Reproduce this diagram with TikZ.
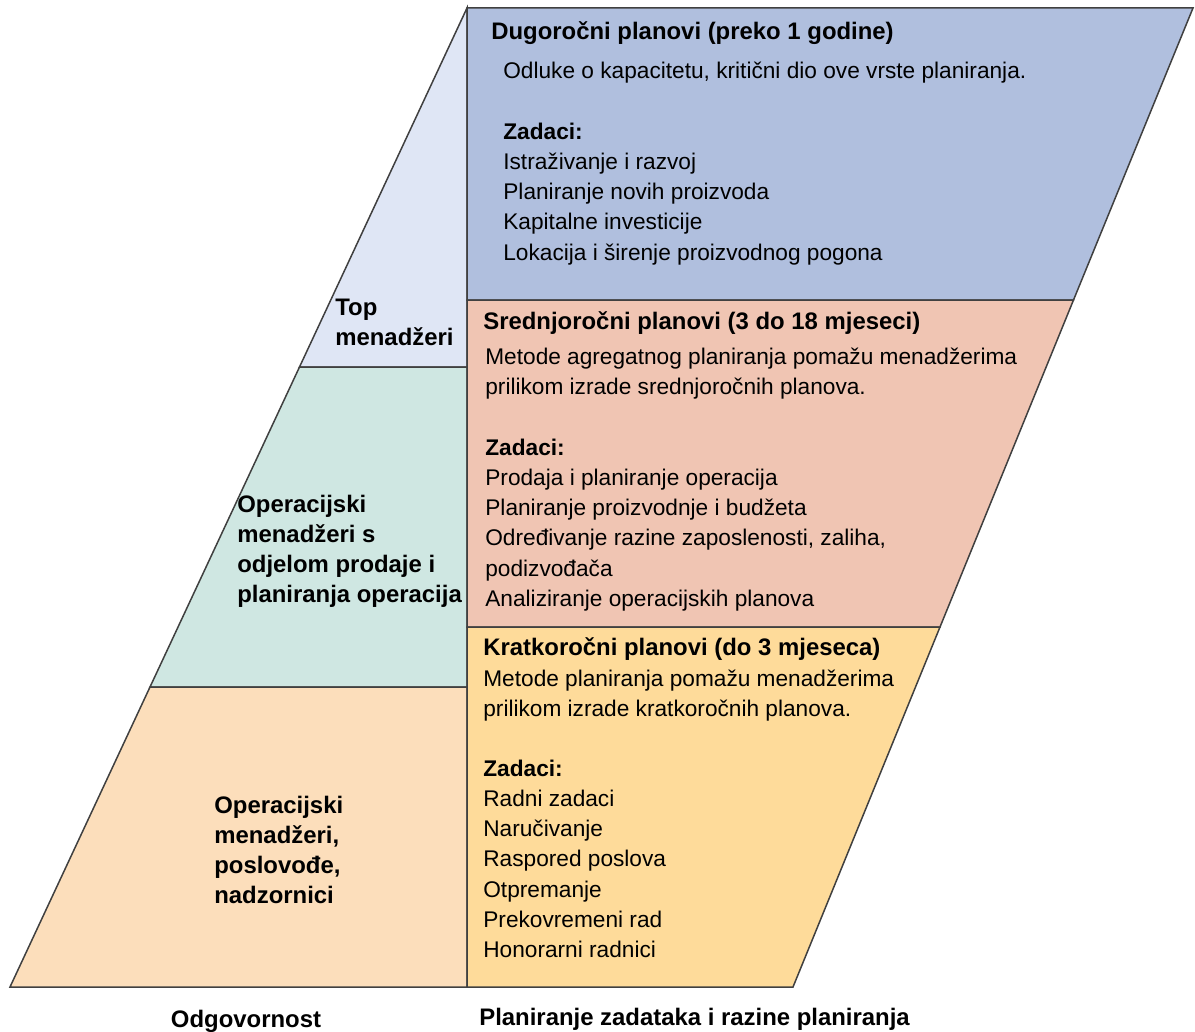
\documentclass[tikz,border=0pt]{standalone}
\usepackage{fontspec}
\setmainfont{Liberation Sans}
\usepackage{xcolor}
\usepackage{tikz}
\usetikzlibrary{shapes,arrows,positioning}

\definecolor{linegray}{RGB}{64,64,64}
\definecolor{topblue}{RGB}{223,230,245}
\definecolor{opteal}{RGB}{207,231,226}
\definecolor{floorpeach}{RGB}{252,222,187}
\definecolor{longblue}{RGB}{176,191,222}
\definecolor{midsalmon}{RGB}{240,197,179}
\definecolor{shortyellow}{RGB}{254,219,154}

\tikzset{
    zone/.style={line width=0.3mm, draw=linegray},
    txt/.style={inner sep=0pt, anchor=base west, align=left,
        font=\fontsize{12.9}{17.24}\selectfont},
    txtbold/.style={txt, font=\fontsize{13.6}{17.24}\selectfont\bfseries}
}

\begin{document}
\begin{tikzpicture}
                \useasboundingbox (0,0) rectangle (23.9,-20.64);

                % odgovornost (lijevo)
                \draw[zone, fill=topblue]
                    (9.34,-0.16) -- (9.34,-7.34) -- (5.99,-7.34) -- cycle;

                \draw[zone, fill=opteal]
                    (5.99,-7.34) -- (9.34,-7.34) -- (9.34,-13.74) -- (3.0,-13.74) -- cycle;

                \draw[zone, fill=floorpeach]
                    (3.0,-13.74) -- (9.34,-13.74) -- (9.34,-19.74) -- (0.2,-19.74) -- cycle;

                % razine planiranja (desno)
                \draw[zone, fill=longblue]
                    (9.34,-0.16) -- (23.86,-0.16) -- (21.47,-6.0) -- (9.34,-6.0) -- cycle;

                \draw[zone, fill=midsalmon]
                    (9.34,-6.0) -- (21.47,-6.0) -- (18.80,-12.54) -- (9.34,-12.54) -- cycle;

                \draw[zone, fill=shortyellow]
                    (9.34,-12.54) -- (18.80,-12.54) -- (15.86,-19.74) -- (9.34,-19.74) -- cycle;

                % tekst lijevo (y = baseline zadnjeg reda)
                \node[txtbold] (topmgr) at (6.70,-6.906) {Top\\menadžeri};
                \node[txtbold] (opmgr) at (4.74,-12.058)
                    {Operacijski\\menadžeri s\\odjelom prodaje i\\planiranja operacija};
                \node[txtbold] (floormgr) at (4.28,-18.078)
                    {Operacijski\\menadžeri,\\poslovođe,\\nadzornici};

                % dugoročni
                \node[txtbold] (longtitle) at (9.82,-0.80) {Dugoročni planovi (preko 1 godine)};
                \node[txt] (longdesc) at (10.06,-1.58)
                    {Odluke o kapacitetu, kritični dio ove vrste planiranja.};
                \node[txt] (longtasks) at (10.06,-5.204)
                    {\textbf{Zadaci:}\\Istraživanje i razvoj\\Planiranje novih proizvoda\\Kapitalne investicije\\Lokacija i širenje proizvodnog pogona};

                % srednjoročni
                \node[txtbold] (midtitle) at (9.66,-6.58) {Srednjoročni planovi (3 do 18 mjeseci)};
                \node[txt] (middesc) at (9.70,-7.886)
                    {Metode agregatnog planiranja pomažu menadžerima\\prilikom izrade srednjoročnih planova.};
                \node[txt] (midtasks) at (9.70,-12.13)
                    {\textbf{Zadaci:}\\Prodaja i planiranje operacija\\Planiranje proizvodnje i budžeta\\Određivanje razine zaposlenosti, zaliha,\\podizvođača\\Analiziranje operacijskih planova};

                % kratkoročni
                \node[txtbold] (shorttitle) at (9.66,-13.10) {Kratkoročni planovi (do 3 mjeseca)};
                \node[txt] (shortdesc) at (9.66,-14.326)
                    {Metode planiranja pomažu menadžerima\\prilikom izrade kratkoročnih planova.};
                \node[txt] (shorttasks) at (9.66,-19.156)
                    {\textbf{Zadaci:}\\Radni zadaci\\Naručivanje\\Raspored poslova\\Otpremanje\\Prekovremeni rad\\Honorarni radnici};

                % naslovi ispod
                \node[txtbold, anchor=base] (resp) at (4.92,-20.54) {Odgovornost};
                \node[txtbold] (levels) at (9.58,-20.50) {Planiranje zadataka i razine planiranja};

            \end{tikzpicture}
\end{document}
